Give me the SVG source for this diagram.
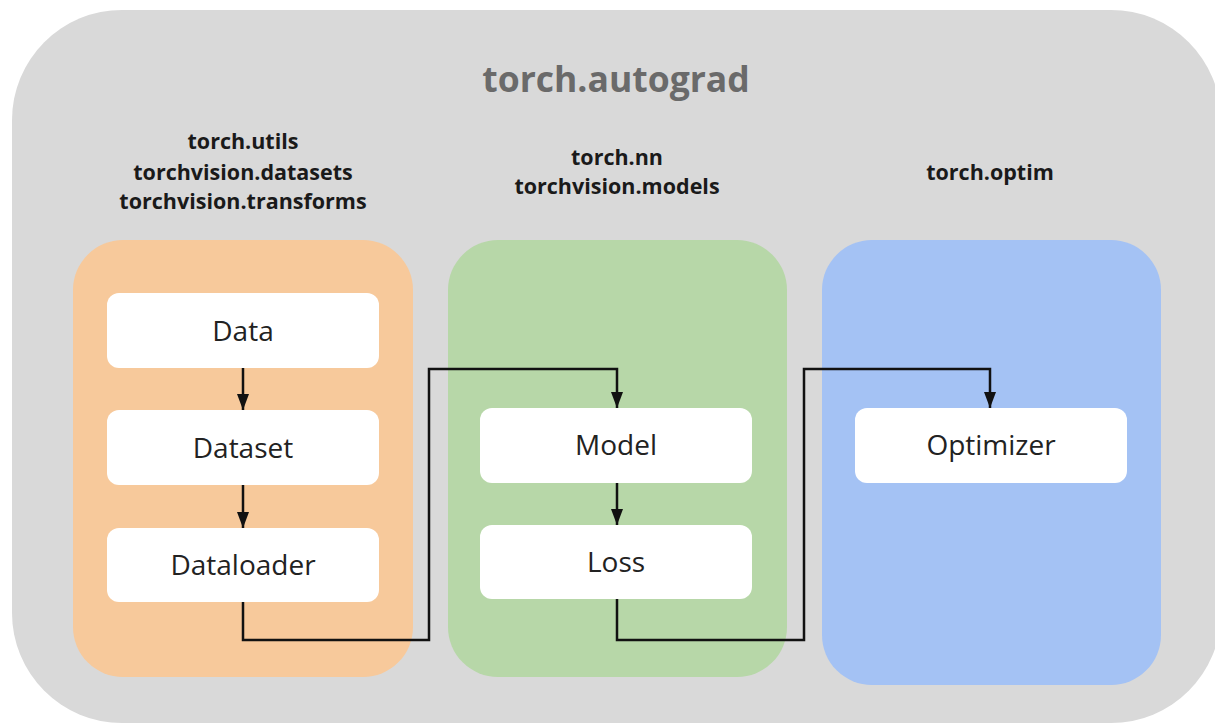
<svg xmlns="http://www.w3.org/2000/svg" width="1215" height="726" viewBox="0 0 1215 726">
  <defs>
    <marker id="arrow" viewBox="0 0 16 12" refX="16" refY="6" markerWidth="16" markerHeight="12" markerUnits="userSpaceOnUse" orient="auto">
      <path d="M0,0 L16,6 L0,12 Z" fill="#111"/>
    </marker>
    <style>
      .panel-label { font-family: "Open Sans", "Liberation Sans", sans-serif; font-weight: 700; font-size: 21.5px; fill: #1a1a1a; text-anchor: middle; }
      .title { font-family: "Open Sans", "Liberation Sans", sans-serif; font-weight: 700; font-size: 35.5px; fill: #6a6a6a; text-anchor: middle; }
      .box { fill: #ffffff; }
      .box-text { font-family: "Open Sans", "Liberation Sans", sans-serif; font-size: 28px; fill: #222; text-anchor: middle; dominant-baseline: central; }
      .conn { fill: none; stroke: #111; stroke-width: 2.5; }
    </style>
  </defs>
  <rect width="1215" height="726" fill="#ffffff"/>
  <g id="autograd">
    <rect x="12" y="10" width="1209" height="713" rx="110" ry="110" fill="#d9d9d9"/>
    <text class="title" x="616" y="92">torch.autograd</text>
  </g>
  <g id="data-panel">
    <rect x="73" y="240" width="340" height="437" rx="50" ry="50" fill="#f7c99b"/>
    <text class="panel-label" x="243" y="149">torch.utils</text>
    <text class="panel-label" x="243" y="180">torchvision.datasets</text>
    <text class="panel-label" x="243" y="209">torchvision.transforms</text>
  </g>
  <g id="model-panel">
    <rect x="448" y="240" width="339" height="437" rx="50" ry="50" fill="#b7d7a8"/>
    <text class="panel-label" x="617" y="165">torch.nn</text>
    <text class="panel-label" x="617" y="194">torchvision.models</text>
  </g>
  <g id="optim-panel">
    <rect x="822" y="240" width="339" height="445" rx="50" ry="50" fill="#a4c2f4"/>
    <text class="panel-label" x="990" y="180">torch.optim</text>
  </g>
  <g id="data">
    <rect class="box" x="107" y="293" width="272" height="75" rx="12"/>
    <text class="box-text" x="243" y="330">Data</text>
  </g>
  <g id="dataset">
    <rect class="box" x="107" y="410" width="272" height="75" rx="12"/>
    <text class="box-text" x="243" y="447">Dataset</text>
  </g>
  <g id="dataloader">
    <rect class="box" x="107" y="528" width="272" height="74" rx="12"/>
    <text class="box-text" x="243" y="564">Dataloader</text>
  </g>
  <g id="model">
    <rect class="box" x="480" y="408" width="272" height="75" rx="12"/>
    <text class="box-text" x="616" y="444">Model</text>
  </g>
  <g id="loss">
    <rect class="box" x="480" y="525" width="272" height="74" rx="12"/>
    <text class="box-text" x="616" y="561">Loss</text>
  </g>
  <g id="optimizer">
    <rect class="box" x="855" y="408" width="272" height="75" rx="12"/>
    <text class="box-text" x="991" y="444">Optimizer</text>
  </g>
  <g id="connectors">
    <path class="conn" d="M243,368 L243,410" marker-end="url(#arrow)"/>
    <path class="conn" d="M243,485 L243,528" marker-end="url(#arrow)"/>
    <path class="conn" d="M243,602 L243,640 L429,640 L429,369 L617,369 L617,408" marker-end="url(#arrow)"/>
    <path class="conn" d="M617,483 L617,525" marker-end="url(#arrow)"/>
    <path class="conn" d="M617,599 L617,640 L804,640 L804,369 L990,369 L990,408" marker-end="url(#arrow)"/>
  </g>
</svg>
